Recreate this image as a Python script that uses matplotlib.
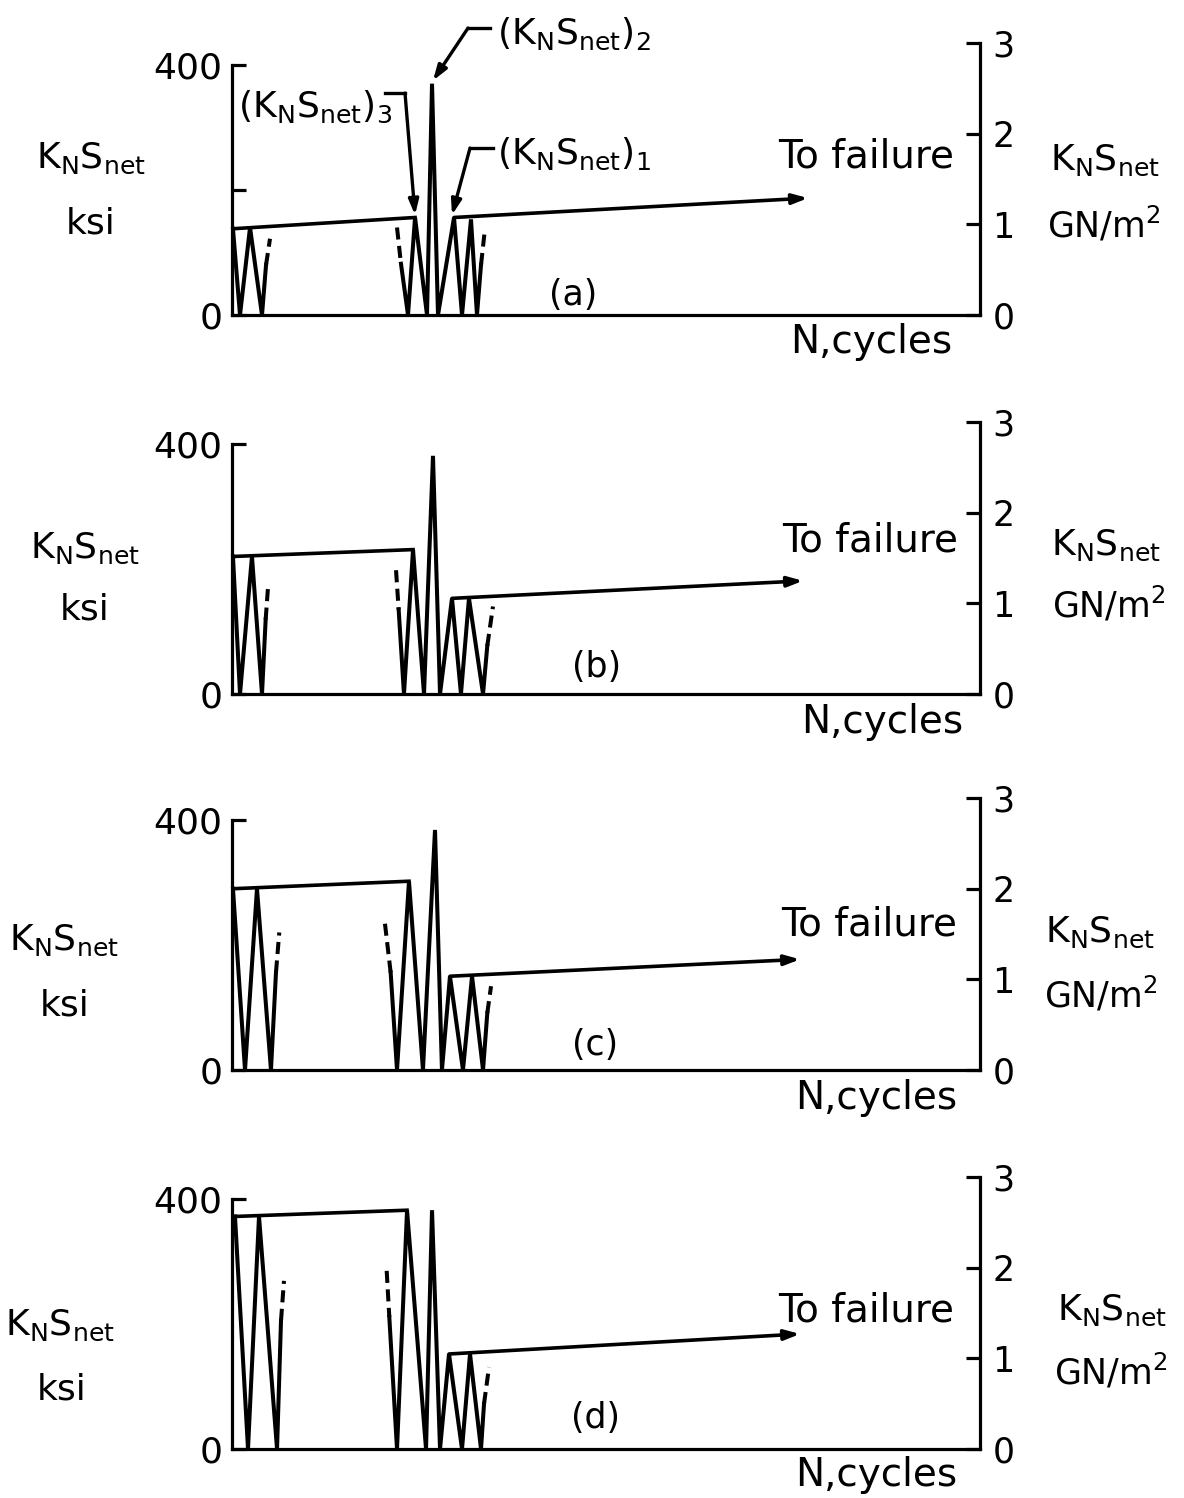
import matplotlib
matplotlib.use('Agg')
import matplotlib.pyplot as plt

plt.rcParams['font.family'] = ['DejaVu Sans']
plt.rcParams['mathtext.fontset'] = 'dejavusans'

# ---------------- data (x: position along N axis in % of axis, y: ksi) ----------------
KSI_PER_GPA = 145.04
panel_tags = ['(a)', '(b)', '(c)', '(d)']

first_solid_x = [[0.13, 1.07, 2.41, 4.01, 4.55],
                 [0.13, 1.07, 2.67, 4.01, 4.50],
                 [0.13, 1.74, 3.34, 5.21, 5.88],
                 [0.40, 2.14, 3.61, 6.02, 6.55]]
first_solid_y = [[138, 0, 140, 0, 80],
                 [220, 0, 220, 0, 119],
                 [290, 0, 290, 0, 156],
                 [372, 0, 372, 0, 205]]
first_dash_x = [[4.55, 5.08], [4.50, 4.85], [5.88, 6.32], [6.55, 6.95]]
first_dash_y = [[80, 122], [119, 177], [156, 220], [205, 269]]

second_dash_x = [[22.06, 22.59], [21.93, 22.28], [20.45, 21.21], [20.68, 21.03]]
second_dash_y = [[140, 82], [198, 135], [234, 156], [285, 211]]
second_solid_x = [[22.59, 23.53, 24.47, 26.07, 26.74, 27.54, 29.68, 30.75, 31.95, 32.75, 33.29],
                  [22.28, 22.99, 24.20, 25.67, 26.87, 27.81, 29.41, 30.61, 31.68, 33.56, 34.13],
                  [21.21, 22.06, 23.66, 25.53, 27.14, 28.07, 29.14, 30.88, 32.09, 33.56, 34.13],
                  [21.03, 22.06, 23.40, 25.94, 26.74, 27.81, 29.01, 30.75, 31.82, 33.29, 33.69]]
second_solid_y = [[82, 0, 156, 0, 370, 0, 156, 0, 153, 0, 80],
                  [135, 0, 231, 0, 381, 0, 153, 0, 153, 0, 77],
                  [156, 0, 302, 0, 384, 0, 150, 0, 150, 0, 91],
                  [211, 0, 382, 0, 382, 0, 152, 0, 152, 0, 72]]
end_dash_x = [[33.29, 33.82], [34.13, 34.89], [34.13, 34.63], [33.69, 34.36]]
end_dash_y = [[80, 138], [77, 140], [91, 134], [72, 131]]

block_line_x = [[0.13, 24.47], [0.13, 24.20], [0.13, 23.66], [0.40, 23.40]]
block_line_y = [[138, 156], [220, 231], [290, 302], [372, 382]]
failure_x = [[29.68, 77.0], [29.41, 76.34], [29.14, 75.94], [29.01, 75.94]]
failure_y = [[156, 187], [153, 181], [150, 177], [152, 184]]

left_ticks = [[0, 200, 400], [0, 400], [0, 400], [0, 400]]
left_ticklabels = [['0', '', '400'], ['0', '400'], ['0', '400'], ['0', '400']]
right_ticks = [0, 1, 2, 3]
right_ticklabels = ['0', '1', '2', '3']

# annotation texts (panel a)
ann_labels = [r'$\mathrm{(K_N S_{net})_3}$', r'$\mathrm{(K_N S_{net})_2}$', r'$\mathrm{(K_N S_{net})_1}$']

# ---------------- figure ----------------
W, H = 1184, 1498
fig = plt.figure(figsize=(W / 100, H / 100), dpi=100)

def fx(px):
    return px / W

def fy(py):
    return 1 - py / H

ax_left_px, ax_right_px = 232, 980
ax_height_px = 272
panel_bottom_px = [315, 694, 1070, 1449]

# label placement (figure pixels, centres)
tofail_pos = [(866, 157), (870, 540), (869, 925), (866, 1310)]
tag_pos = [(573, 295), (597, 667), (595, 1045), (595, 1418)]
ncyc_pos = [(871, 342), (882, 722), (876, 1098), (876, 1475)]
lk_pos = [(91, 158), (85, 548), (64, 940), (60, 1325)]
lksi_pos = [(91, 224), (85, 610), (65, 1005), (62, 1390)]
rk_pos = [(1105, 160), (1106, 545), (1100, 932), (1112, 1310)]
rgn_pos = [(1104, 225), (1109, 605), (1101, 995), (1111, 1372)]

LW = 2.9
SP = 2.3
FS = 25
KS = r'$\mathrm{K_N S_{net}}$'

for i in range(4):
    b = panel_bottom_px[i]
    ax = fig.add_axes([fx(ax_left_px), 1 - b / H, fx(ax_right_px - ax_left_px), ax_height_px / H])
    ax.set_xlim(0, 100)
    ax.set_ylim(0, 3 * KSI_PER_GPA)
    tw = ax.twinx()
    tw.set_ylim(0, 3)

    for s in ['top', 'right']:
        ax.spines[s].set_visible(False)
    for s in ['top', 'left', 'bottom']:
        tw.spines[s].set_visible(False)
    ax.spines['left'].set_bounds(0, 400)
    ax.spines['left'].set_linewidth(SP)
    ax.spines['bottom'].set_linewidth(SP)
    tw.spines['right'].set_linewidth(SP)

    ax.set_xticks([])
    ax.set_yticks(left_ticks[i])
    ax.set_yticklabels(left_ticklabels[i])
    ax.tick_params(axis='y', direction='in', length=10, width=SP, labelsize=FS + 1, pad=7)
    tw.set_yticks(right_ticks)
    tw.set_yticklabels(right_ticklabels)
    tw.tick_params(axis='y', direction='in', length=10, width=SP, labelsize=FS, pad=9)

    kw = dict(color='black', lw=LW, solid_joinstyle='miter', clip_on=False)
    dkw = dict(color='black', lw=LW, ls=(0, (3, 1.6)), clip_on=False)
    ax.plot(first_solid_x[i], first_solid_y[i], **kw)
    ax.plot(first_dash_x[i], first_dash_y[i], **dkw)
    ax.plot(second_dash_x[i], second_dash_y[i], **dkw)
    ax.plot(second_solid_x[i], second_solid_y[i], **kw)
    ax.plot(end_dash_x[i], end_dash_y[i], **dkw)
    ax.plot(block_line_x[i], block_line_y[i], color='black', lw=2.6, clip_on=False)
    ax.annotate('', xy=(failure_x[i][1], failure_y[i][1]), xytext=(failure_x[i][0], failure_y[i][0]),
                arrowprops=dict(arrowstyle='-|>,head_length=0.9,head_width=0.3', lw=2.6,
                                color='black', shrinkA=0, shrinkB=0), annotation_clip=False)

    # text labels
    fig.text(fx(tofail_pos[i][0]), fy(tofail_pos[i][1]), 'To failure', fontsize=FS + 3,
             ha='center', va='center')
    fig.text(fx(tag_pos[i][0]), fy(tag_pos[i][1]), panel_tags[i], fontsize=FS,
             ha='center', va='center')
    fig.text(fx(ncyc_pos[i][0]), fy(ncyc_pos[i][1]), 'N,cycles', fontsize=FS + 3,
             ha='center', va='center')
    fig.text(fx(lk_pos[i][0]), fy(lk_pos[i][1]), KS, fontsize=FS + 1, ha='center', va='center')
    fig.text(fx(lksi_pos[i][0]), fy(lksi_pos[i][1]), 'ksi', fontsize=FS + 1, ha='center', va='center')
    fig.text(fx(rk_pos[i][0]), fy(rk_pos[i][1]), KS, fontsize=FS + 1, ha='center', va='center')
    fig.text(fx(rgn_pos[i][0]), fy(rgn_pos[i][1]), r'$\mathrm{GN/m^2}$', fontsize=FS,
             ha='center', va='center')

    if i == 0:
        arr = dict(arrowstyle='-|>,head_length=0.9,head_width=0.3', lw=2.4, color='black',
                   shrinkA=0, shrinkB=0)
        # (K_N S_net)_3
        ax.text(0.8, 333, ann_labels[0], fontsize=FS + 1, ha='left', va='center', clip_on=False)
        ax.plot([20.45, 23.13], [355, 355], color='black', lw=2.4, clip_on=False)
        ax.annotate('', xy=(24.47, 160), xytext=(23.13, 355), arrowprops=arr, annotation_clip=False)
        # (K_N S_net)_2
        ax.text(35.43, 449, ann_labels[1], fontsize=FS + 1, ha='left', va='center', clip_on=False)
        ax.plot([31.55, 34.49], [459, 459], color='black', lw=2.4, clip_on=False)
        ax.annotate('', xy=(26.87, 375), xytext=(31.55, 459), arrowprops=arr, annotation_clip=False)
        # (K_N S_net)_1
        ax.text(35.43, 257, ann_labels[2], fontsize=FS + 1, ha='left', va='center', clip_on=False)
        ax.plot([31.82, 34.89], [267, 267], color='black', lw=2.4, clip_on=False)
        ax.annotate('', xy=(29.41, 160), xytext=(31.82, 267), arrowprops=arr, annotation_clip=False)

fig.savefig('out.png', dpi=100)
